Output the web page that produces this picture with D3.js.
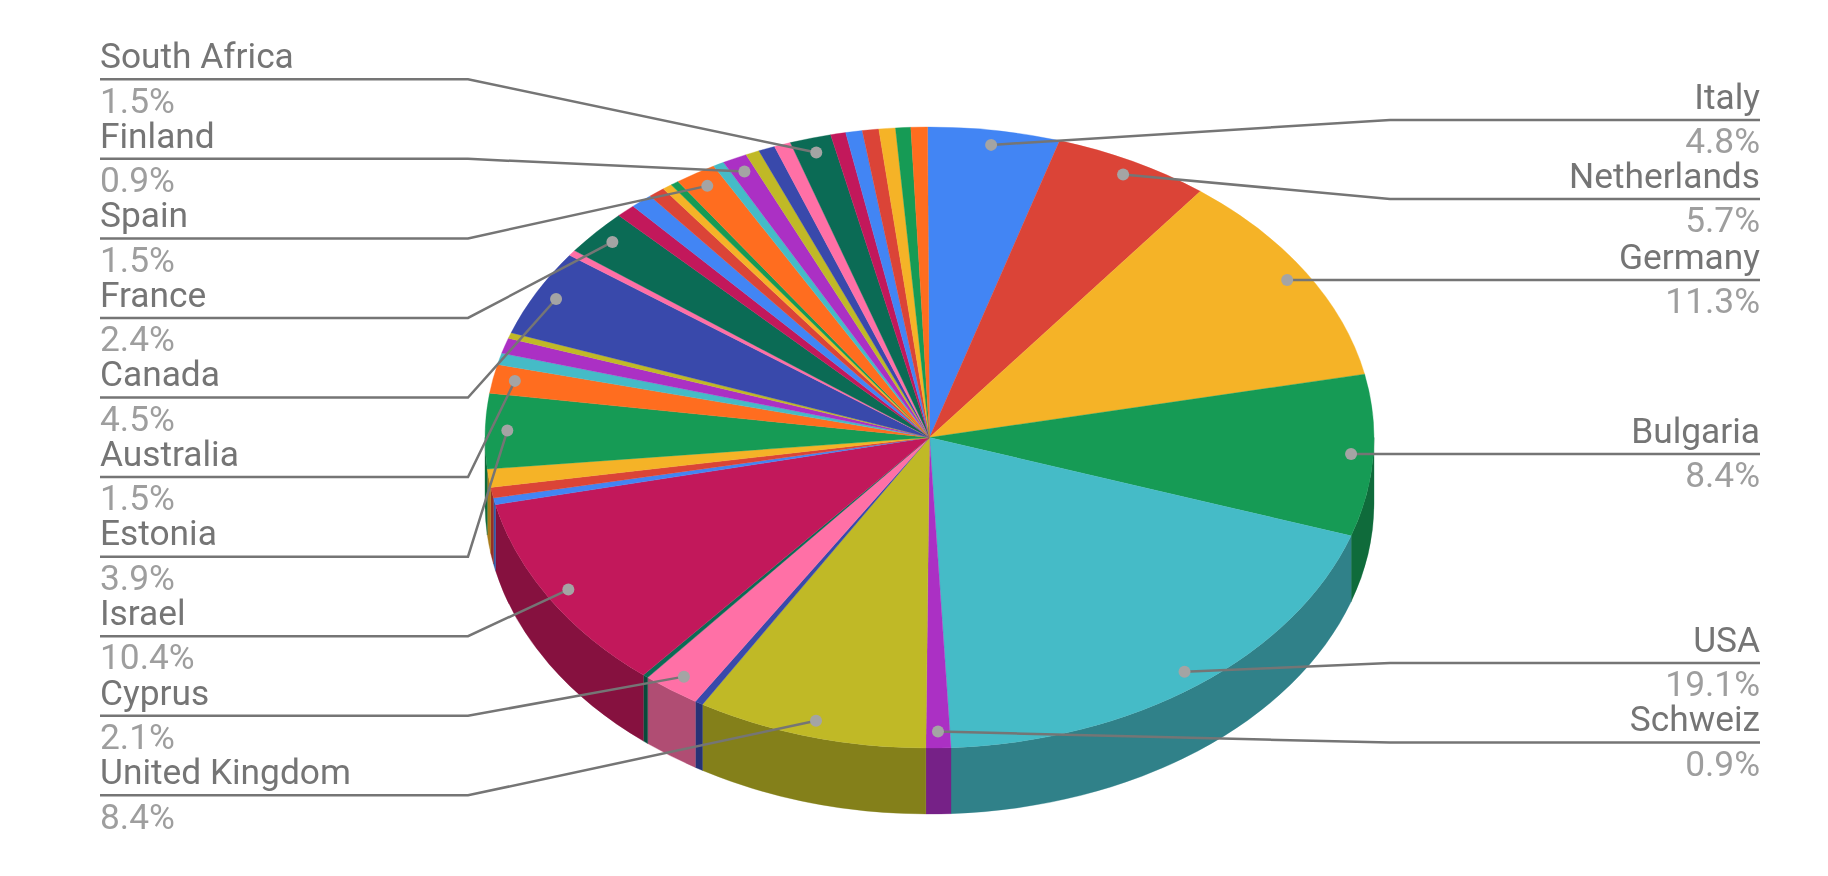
<!DOCTYPE html>
<html><head><meta charset="utf-8">
<script src="https://d3js.org/d3.v7.min.js"></script>
<style>
html,body{margin:0;padding:0;background:#fff;overflow:hidden}
svg{display:block;filter:blur(0.6px)}
text{font-family:Roboto,sans-serif;font-size:35.3px}
</style></head><body>
<svg id="c" width="1828" height="876"></svg>
<script>
// Data, clockwise from 12 o'clock. Empty names are slices the chart does not label.
const categories=["Italy","Netherlands","Germany","Bulgaria","USA","Schweiz","United Kingdom","","Cyprus","","Israel","","","","Estonia","Australia","","","","Canada","","France","","","","","","Spain","","Finland","","","","South Africa","","","","","",""];
const values=[4.8,5.7,11.3,8.4,19.1,0.9,8.4,0.3,2.1,0.2,10.4,0.35,0.55,0.95,3.9,1.5,0.6,0.8,0.3,4.5,0.3,2.4,0.7,0.8,0.6,0.35,0.3,1.5,0.4,0.9,0.5,0.6,0.6,1.5,0.55,0.6,0.6,0.6,0.55,0.6];
const sliceColors=["#4285f4","#db4437","#f5b327","#169b55","#45bbc7","#ab30c4","#c0b926","#3949ab","#ff70a6","#0b6b55","#c2185b","#4285f4","#db4437","#f5b327","#169b55","#ff6d1f","#45bbc7","#ab30c4","#c0b926","#3949ab","#ff70a6","#0b6b55","#c2185b","#4285f4","#db4437","#f5b327","#169b55","#ff6d1f","#45bbc7","#ab30c4","#c0b926","#3949ab","#ff70a6","#0b6b55","#c2185b","#4285f4","#db4437","#f5b327","#169b55","#ff6d1f"];

// Layout
const cx=929.5, cy=437.5, rx=444.5, ry=310.5, depth=66;
const ky=ry/rx, depthU=depth/ky;
const sideShade=0.69, dotFrac=0.95, dotShift=-0.8;
const leftNames=["South Africa","Finland","Spain","France","Canada","Australia","Estonia","Israel","Cyprus","United Kingdom"];
const slotY=d3.scaleLinear().domain([0,9]).range([79.3,795.3]);
const rightLineY={"Italy":120,"Netherlands":199,"USA":663,"Schweiz":742.6}; // others run level with their dot
const leftX=[100,468], rightX=[1760,1390];
const nameCol="#757575", pctCol="#9e9e9e", lineCol="#757575", dotCol="#a4a4a4";

const svg=d3.select("#c");
const rows=categories.map((name,i)=>({name,value:values[i],color:sliceColors[i]}));
const arcs=d3.pie().sort(null).value(d=>d.value).startAngle(-0.0044).endAngle(2*Math.PI)(rows);
const pie=svg.append("g").attr("transform",`translate(${cx},${cy}) scale(1,${ky})`);
const arcGen=d3.arc().innerRadius(0).outerRadius(rx);
const dotArc=d3.arc().innerRadius(rx*dotFrac).outerRadius(rx*dotFrac);

// Side wall: only the front half of the rim
const HALF=Math.PI/2;
function wall(a){
  const a0=Math.max(a.startAngle,HALF), a1=Math.min(a.endAngle,3*HALF);
  if(a1<=a0) return null;
  const s=a0-HALF,e=a1-HALF,p=d3.path();
  p.moveTo(rx*Math.cos(s),rx*Math.sin(s));
  p.arc(0,0,rx,s,e,false);
  p.lineTo(rx*Math.cos(e),rx*Math.sin(e)+depthU);
  p.arc(0,depthU,rx,e,s,true);
  p.closePath();
  return p.toString();
}
const shade=c=>{const q=d3.rgb(c);return d3.rgb(q.r*sideShade,q.g*sideShade,q.b*sideShade).formatHex();};
pie.selectAll("path.wall").data(arcs.filter(wall)).join("path").attr("class","wall")
  .attr("d",wall).attr("fill",d=>shade(d.data.color))
  .attr("stroke",d=>shade(d.data.color)).attr("stroke-width",0.4);
pie.selectAll("path.top").data(arcs).join("path").attr("class","top")
  .attr("d",arcGen).attr("fill",d=>d.data.color)
  .attr("stroke",d=>d.data.color).attr("stroke-width",0.4);

// Labels with leader lines
const labelled=arcs.filter(d=>d.data.name);
const fmt=d3.format(".1f");
const lay=d=>{
  const left=leftNames.includes(d.data.name);
  const [ax,ay]=dotArc.centroid(d);
  const dy=cy+ay*ky+dotShift;
  const y=left?slotY(leftNames.indexOf(d.data.name)):(rightLineY[d.data.name]??dy);
  return {left,y,dx:cx+ax,dy,end:left?leftX:rightX};
};
const line=d3.line();
const lbl=svg.append("g").selectAll("g").data(labelled).join("g");
lbl.append("path").attr("fill","none").attr("stroke",lineCol).attr("stroke-width",2.5)
  .attr("d",d=>{const l=lay(d);return line([[l.dx,l.dy],[l.end[1],l.y],[l.end[0],l.y]]);});
lbl.append("circle").attr("r",6).attr("fill",dotCol)
  .attr("cx",d=>lay(d).dx).attr("cy",d=>lay(d).dy);
lbl.append("text").attr("fill",nameCol)
  .attr("x",d=>lay(d).end[0]).attr("y",d=>lay(d).y-11.2)
  .attr("text-anchor",d=>lay(d).left?"start":"end").text(d=>d.data.name);
lbl.append("text").attr("fill",pctCol)
  .attr("x",d=>lay(d).end[0]).attr("y",d=>lay(d).y+33.3)
  .attr("text-anchor",d=>lay(d).left?"start":"end").text(d=>fmt(d.data.value)+"%");
</script>
</body></html>
